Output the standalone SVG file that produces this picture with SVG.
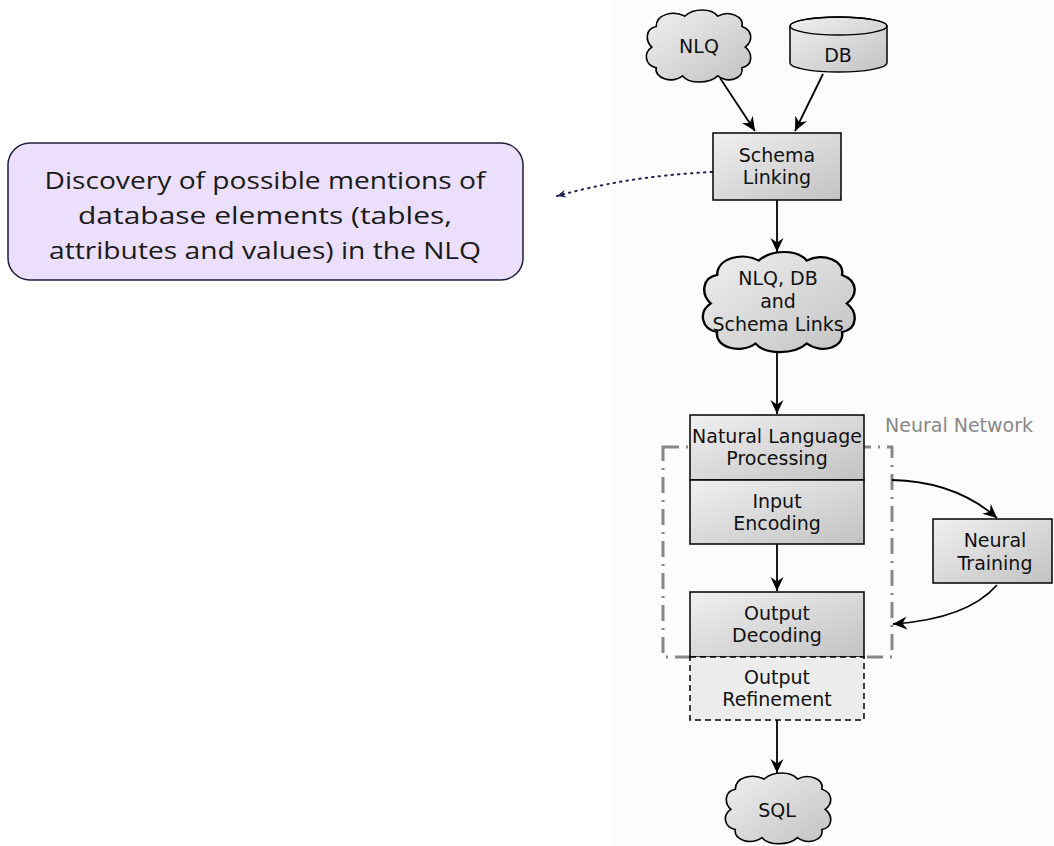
<svg xmlns="http://www.w3.org/2000/svg" width="1054" height="846" viewBox="0 0 1054 846">
  <defs>
    <linearGradient id="shade" x1="0" y1="0" x2="1" y2="1">
      <stop offset="0" stop-color="#f0f0f0"/>
      <stop offset="1" stop-color="#c2c2c2"/>
    </linearGradient>
    <marker id="arrow" markerUnits="userSpaceOnUse" viewBox="0 0 15 14" markerWidth="15" markerHeight="14" refX="14" refY="7" orient="auto">
      <path d="M0,0.5 L14,7 L0,13.5 L4.5,7 Z" fill="#000"/>
    </marker>
    <marker id="dotArrow" markerUnits="userSpaceOnUse" viewBox="0 0 10 10" markerWidth="10" markerHeight="10" refX="9" refY="5" orient="auto">
      <path d="M0,1 L9,5 L0,9 L3,5 Z" fill="#23234f"/>
    </marker>
    <!-- generic cloud outline in a 100 x 70 box -->
    <path id="cloud" d="M8,36 C2,30 2,18 12,16 C12,4 28,0 38,6 C46,-2 62,-2 68,6 C78,0 92,6 90,16 C100,20 100,30 93,36 C100,42 100,54 90,56 C92,66 78,72 68,64 C60,72 42,72 36,64 C26,72 10,66 12,56 C2,54 0,42 8,36 Z"/>
  </defs>
  <style>
    .box { fill: url(#shade); stroke: #000; stroke-width: 1.5; }
    .cloud { fill: url(#shade); stroke: #000; stroke-width: 1.5; vector-effect: non-scaling-stroke; }
    .lbl { font-family: "DejaVu Sans", sans-serif; font-size: 19px; fill: #111; text-anchor: middle; }
    .edge { fill: none; stroke: #000; stroke-width: 1.8; marker-end: url(#arrow); }
    .note { font-family: "Open Sans", "Liberation Sans", sans-serif; font-size: 24.5px; fill: #1a1a1a; text-anchor: middle; }
  </style>

  <!-- canvas -->
  <rect x="0" y="0" width="1054" height="846" fill="#ffffff"/>
  <rect x="611" y="0" width="443" height="846" fill="#fcfcfc"/>

  <!-- neural network grouping frame -->
  <g id="neural-network">
    <rect x="663" y="447" width="229" height="210" fill="none" stroke="#888" stroke-width="3" stroke-dasharray="16,7,2,7"/>
    <text x="885" y="432" font-family="DejaVu Sans, sans-serif" font-size="19" fill="#888">Neural Network</text>
  </g>

  <g id="connectors">
    <path class="edge" d="M720,78 L755,131"/>
    <path class="edge" d="M823,74 L795,131"/>
    <path class="edge" d="M777,200 L777,252"/>
    <path class="edge" d="M777,352 L777,414"/>
    <path class="edge" d="M777,544 L777,591"/>
    <path class="edge" d="M777,720 L777,773"/>
    <path class="edge" d="M892,480 C940,481 972,496 997,518"/>
    <path class="edge" d="M997,585 C975,610 938,621 893,624"/>
    <path d="M712,172 C650,175 600,184 557,196" fill="none" stroke="#23234f" stroke-width="2" stroke-dasharray="1.5,5" stroke-linecap="round" marker-end="url(#dotArrow)"/>
  </g>

  <g id="nlq">
    <use href="#cloud" class="cloud" transform="translate(643,10) scale(1.1,1.03)"/>
    <text class="lbl" x="699" y="53">NLQ</text>
  </g>

  <g id="db">
    <path class="box" d="M790,26 L790,63 A48.5,9 0 0 0 887,63 L887,26 A48.5,9 0 0 0 790,26 Z"/>
    <ellipse cx="838.5" cy="26" rx="48.5" ry="9" fill="none" stroke="#000" stroke-width="1.5"/>
    <text class="lbl" x="838" y="62">DB</text>
  </g>

  <g id="schema-linking">
    <rect class="box" x="713" y="133" width="128" height="67"/>
    <text class="lbl" x="777" y="162">Schema</text>
    <text class="lbl" x="777" y="184">Linking</text>
  </g>

  <g id="schema-links">
    <use href="#cloud" class="cloud" transform="translate(698,252) scale(1.6,1.43)"/>
    <text class="lbl" x="778" y="285">NLQ, DB</text>
    <text class="lbl" x="778" y="308">and</text>
    <text class="lbl" x="778" y="331">Schema Links</text>
  </g>

  <g id="nlp">
    <rect class="box" x="690" y="415" width="174" height="65"/>
    <text class="lbl" x="777" y="443">Natural Language</text>
    <text class="lbl" x="777" y="465">Processing</text>
  </g>

  <g id="input-encoding">
    <rect class="box" x="690" y="480" width="174" height="64"/>
    <text class="lbl" x="777" y="508">Input</text>
    <text class="lbl" x="777" y="530">Encoding</text>
  </g>

  <g id="output-decoding">
    <rect class="box" x="690" y="592" width="174" height="65"/>
    <text class="lbl" x="777" y="620">Output</text>
    <text class="lbl" x="777" y="642">Decoding</text>
  </g>

  <g id="output-refinement">
    <rect x="690" y="657" width="174" height="63" fill="#ececec" stroke="#000" stroke-width="1.5" stroke-dasharray="6,4"/>
    <text class="lbl" x="777" y="684">Output</text>
    <text class="lbl" x="777" y="706">Refinement</text>
  </g>

  <g id="neural-training">
    <rect class="box" x="933" y="519" width="119" height="64"/>
    <text class="lbl" x="995" y="547">Neural</text>
    <text class="lbl" x="995" y="570">Training</text>
  </g>

  <g id="sql">
    <use href="#cloud" class="cloud" transform="translate(722,773) scale(1.11,1.01)"/>
    <text class="lbl" x="777" y="817">SQL</text>
  </g>

  <g id="note">
    <rect x="8" y="143" width="515" height="137" rx="22" ry="22" fill="#ecdffb" stroke="#1e1e3c" stroke-width="1.5"/>
    <text class="note" x="265" y="189" textLength="441" lengthAdjust="spacingAndGlyphs">Discovery of possible mentions of</text>
    <text class="note" x="265" y="224" textLength="374" lengthAdjust="spacingAndGlyphs">database elements (tables,</text>
    <text class="note" x="265" y="259" textLength="432" lengthAdjust="spacingAndGlyphs">attributes and values) in the NLQ</text>
  </g>
</svg>
